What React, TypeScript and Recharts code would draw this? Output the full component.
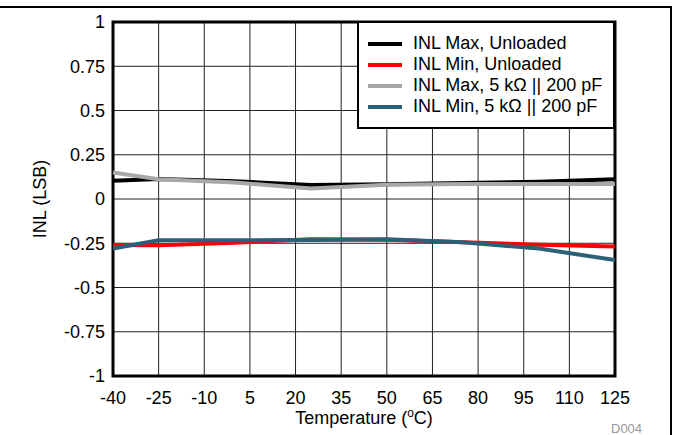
import React from 'react';
import { LineChart, Line, XAxis, YAxis, CartesianGrid, ReferenceArea } from 'recharts';

const FONT = '"Liberation Sans", Arial, Helvetica, sans-serif';

const temperatures = [-40, -25, 0, 25, 50, 75, 100, 125];
const inlMaxUnloaded = [0.103, 0.113, 0.1, 0.079, 0.083, 0.09, 0.098, 0.111];
const inlMinUnloaded = [-0.26, -0.262, -0.247, -0.228, -0.23, -0.245, -0.258, -0.268];
const inlMax5k = [0.15, 0.112, 0.093, 0.06, 0.08, 0.085, 0.085, 0.085];
const inlMin5k = [-0.28, -0.233, -0.233, -0.232, -0.228, -0.245, -0.28, -0.345];

const xTicks = [-40, -25, -10, 5, 20, 35, 50, 65, 80, 95, 110, 125];
const yTicks = [-1, -0.75, -0.5, -0.25, 0, 0.25, 0.5, 0.75, 1];

const seriesKeys = ['maxU', 'minU', 'max5k', 'min5k'];
const seriesNames = [
  'INL Max, Unloaded',
  'INL Min, Unloaded',
  'INL Max, 5 k\u03A9 || 200 pF',
  'INL Min, 5 k\u03A9 || 200 pF',
];
const seriesColors = ['#000000', '#ff0000', '#a8a8a8', '#2c5f78'];

const data = temperatures.map((t, i) => ({
  t,
  maxU: inlMaxUnloaded[i],
  minU: inlMinUnloaded[i],
  max5k: inlMax5k[i],
  min5k: inlMin5k[i],
}));

const XTitle = (props: any) => {
  const vb = props.viewBox || { x: 113, y: 376, width: 502, height: 59 };
  const cx = vb.x + vb.width / 2;
  return (
    <text x={cx} y={424} textAnchor="middle" fontFamily={FONT} fontSize={18} fill="#000">
      <tspan>Temperature (</tspan>
      <tspan fontSize={12} dy={-7}>o</tspan>
      <tspan dy={7}>C)</tspan>
    </text>
  );
};

const YTitle = () => (
  <text
    x={46}
    y={199}
    textAnchor="middle"
    fontFamily={FONT}
    fontSize={18}
    fill="#000"
    transform="rotate(-90, 46, 199)"
  >
    INL (LSB)
  </text>
);

export default function App() {
  return (
    <div style={{ position: 'absolute', left: 0, top: 0, width: 673, height: 435, background: '#fff', fontFamily: FONT }}>
      <LineChart
        width={673}
        height={435}
        data={data}
        margin={{ top: 22, right: 58, bottom: 0, left: 0 }}
      >
        <CartesianGrid stroke="#222" strokeWidth={1} horizontal vertical />
        <XAxis
          dataKey="t"
          type="number"
          domain={[-40, 125]}
          ticks={xTicks}
          interval={0}
          height={59}
          tickLine={false}
          tickSize={0}
          tickMargin={15}
          axisLine={false}
          tick={{ fontSize: 18, fill: '#000', fontFamily: FONT }}
          label={<XTitle />}
        />
        <YAxis
          type="number"
          domain={[-1, 1]}
          ticks={yTicks}
          interval={0}
          width={113}
          tickLine={false}
          tickSize={0}
          tickMargin={8}
          axisLine={false}
          tick={{ fontSize: 18, fill: '#000', fontFamily: FONT }}
          label={<YTitle />}
        />
        {seriesKeys.map((k, i) => (
          <Line
            key={k}
            type="linear"
            dataKey={k}
            name={seriesNames[i]}
            stroke={seriesColors[i]}
            strokeWidth={4}
            dot={false}
            activeDot={false}
            isAnimationActive={false}
          />
        ))}
        <ReferenceArea
          x1={-40}
          x2={125}
          y1={-1}
          y2={1}
          fill="none"
          fillOpacity={0}
          stroke="#000"
          strokeWidth={3}
          ifOverflow="visible"
        />
      </LineChart>

      <div
        style={{
          position: 'absolute',
          left: 357,
          top: 21,
          width: 258,
          height: 108,
          boxSizing: 'border-box',
          border: '2px solid #000',
          background: '#fff',
          paddingTop: 10,
        }}
      >
        {seriesNames.map((n, i) => (
          <div key={n} style={{ display: 'flex', alignItems: 'center', height: 21 }}>
            <div style={{ marginLeft: 9, width: 34, height: 4, background: seriesColors[i], flex: 'none' }} />
            <span style={{ marginLeft: 11, fontSize: 18, lineHeight: '21px', color: '#000', whiteSpace: 'nowrap' }}>{n}</span>
          </div>
        ))}
      </div>

      <div style={{ position: 'absolute', left: 0, top: 6, width: 672, height: 2, background: '#000' }} />
      <div style={{ position: 'absolute', left: 670, top: 6, width: 2, height: 429, background: '#000' }} />

      <svg style={{ position: 'absolute', left: 0, top: 0, pointerEvents: 'none' }} width={673} height={435}>
        <text x={611} y={433} fontFamily={FONT} fontSize={13} fill="#999">D004</text>
      </svg>
    </div>
  );
}
